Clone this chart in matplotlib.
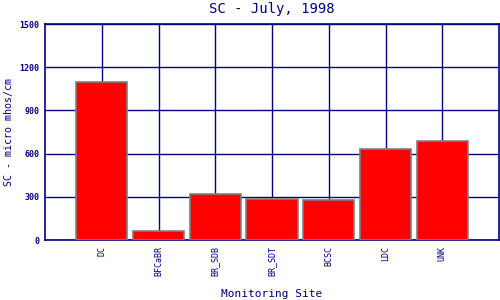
import matplotlib
matplotlib.use('Agg')
import matplotlib.pyplot as plt

sites = ['DC', 'BFCaBR', 'BR_SDB', 'BR_SDT', 'BCSC', 'LDC', 'UNK']
sc_values = [1100, 62, 317, 285, 277, 632, 688]
y_ticks = [0, 300, 600, 900, 1200, 1500]

navy = '#000080'
plt.rcParams['font.family'] = ['DejaVu Sans Mono']

fig = plt.figure(figsize=(5, 3), dpi=100)
ax = fig.add_axes([0.09, 0.2, 0.908, 0.72])

x = list(range(len(sites)))
ax.bar(x, sc_values, width=0.9, color='#ff0000', edgecolor='#808080', linewidth=1.2, zorder=3)

ax.set_xlim(-1, len(sites))
ax.set_ylim(0, 1500)
ax.set_yticks(y_ticks)
ax.set_yticklabels([str(v) for v in y_ticks], fontsize=6, color=navy, fontweight='bold')
ax.set_xticks(x)
ax.set_xticklabels(sites, rotation=90, fontsize=6, color=navy)
ax.tick_params(axis='both', length=0, pad=4)

ax.grid(True, color=navy, linewidth=1, zorder=0)
for s in ax.spines.values():
    s.set_color(navy)
    s.set_linewidth(1.2)

fig.text(0.544, 0.97, 'SC - July, 1998', color=navy, fontsize=10, ha='center', va='center')
ax.set_ylabel('SC - micro mhos/cm', color=navy, fontsize=7.2)
ax.yaxis.set_label_coords(-0.068, 0.5)
ax.set_xlabel('Monitoring Site', color=navy, fontsize=8, labelpad=10)

fig.savefig('out.png', dpi=100)
